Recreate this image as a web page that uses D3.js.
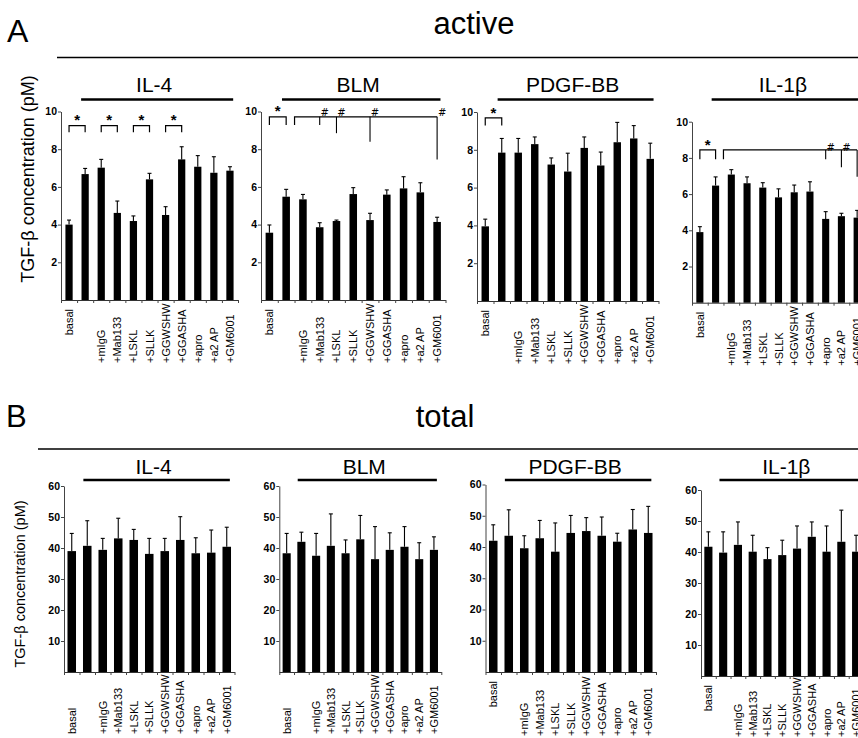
<!DOCTYPE html>
<html>
<head>
<meta charset="utf-8">
<script src="https://cdn.jsdelivr.net/npm/d3@7"></script>
<style>
  body { margin: 0; background: #fff; }
  svg { font-family: "Liberation Sans", Arial, sans-serif; }
  text { fill: #000; }
</style>
</head>
<body>
<svg id="fig" width="858" height="738"></svg>
<script>
// categories (second bar = stimulus alone, unlabeled)
var cats = ["basal", "stim", "+mIgG", "+Mab133", "+LSKL", "+SLLK", "+GGWSHW", "+GGASHA", "+apro", "+a2 AP", "+GM6001"];
var catLabels = ["basal", "", "+mIgG", "+Mab133", "+LSKL", "+SLLK", "+GGWSHW", "+GGASHA", "+apro", "+a2 AP", "+GM6001"];
var stimuli = ["IL-4", "BLM", "PDGF-BB", "IL-1β"];
var activeTicks = [2, 4, 6, 8, 10];
var totalTicks = [10, 20, 30, 40, 50, 60];

// active TGF-b (pM), bar value and top of error bar
var il4Active   = [4.0, 6.68, 7.02, 4.62, 4.19, 6.4, 4.51, 7.46, 7.07, 6.75, 6.86];
var il4ActErr   = [4.24, 6.98, 7.46, 5.25, 4.46, 6.72, 4.95, 8.13, 7.66, 7.6, 7.07];
var blmActive   = [3.57, 5.48, 5.34, 3.86, 4.19, 5.62, 4.24, 5.59, 5.92, 5.71, 4.14];
var blmActErr   = [3.98, 5.87, 5.6, 4.1, 4.24, 5.96, 4.6, 5.84, 6.54, 6.22, 4.39];
var pdgfActive  = [3.95, 7.85, 7.85, 8.3, 7.22, 6.85, 8.1, 7.17, 8.4, 8.6, 7.52];
var pdgfActErr  = [4.33, 8.6, 8.6, 8.68, 7.57, 7.82, 8.68, 7.88, 9.45, 9.28, 8.35];
var il1bActive  = [3.9, 6.47, 7.08, 6.6, 6.36, 5.82, 6.1, 6.14, 4.63, 4.78, 4.7];
var il1bActErr  = [4.2, 6.95, 7.35, 6.95, 6.63, 6.29, 6.5, 6.68, 5.03, 4.94, 5.1];

// total TGF-b (pM)
var il4Total    = [39.0, 40.7, 39.4, 43.1, 42.6, 38.1, 39.0, 42.6, 38.3, 38.5, 40.4];
var il4TotErr   = [44.7, 48.8, 43.1, 49.6, 46.0, 43.1, 43.1, 50.1, 43.3, 45.8, 46.7];
var blmTotal    = [38.3, 42.0, 37.5, 40.7, 38.3, 42.8, 36.4, 39.4, 40.4, 36.4, 39.4];
var blmTotErr   = [44.7, 45.1, 44.7, 51.0, 42.6, 50.5, 46.9, 44.9, 46.9, 41.7, 43.6];
var pdgfTotal   = [42.0, 43.6, 39.6, 42.8, 38.5, 44.5, 45.1, 43.6, 41.7, 45.6, 44.5];
var pdgfTotErr  = [47.1, 51.9, 43.6, 48.5, 47.7, 50.1, 49.4, 49.6, 44.4, 52.0, 53.0];
var il1bTotal   = [41.7, 39.8, 42.3, 40.1, 37.7, 39.0, 41.1, 44.9, 40.1, 43.3, 40.1];
var il1bTotErr  = [46.5, 46.5, 49.7, 45.4, 41.4, 43.8, 48.4, 49.7, 48.4, 53.5, 45.4];

// significance marks (bar indices, levels in pM)
var il4Sig  = [{from: 0, to: 1, top: 9.25, leg: 8.9, mark: "*", at: 9.72},
               {from: 2, to: 3, top: 9.25, leg: 8.9, mark: "*", at: 9.72},
               {from: 4, to: 5, top: 9.25, leg: 8.9, mark: "*", at: 9.72},
               {from: 6, to: 7, top: 9.25, leg: 8.9, mark: "*", at: 9.72}];
var blmSig  = [{from: 0, to: 1, top: 9.72, leg: 9.28, mark: "*", at: 10.2},
               {from: 1.5, to: 10, top: 9.72, leg: 9.28, mark: "#", at: 9.94,
                drops: [[3, 9.28], [4, 8.85], [6, 8.4], [10, 7.45]]}];
var pdgfSig = [{from: 0, to: 1, top: 9.69, leg: 9.28, mark: "*", at: 10.08}];
var il1bSig = [{from: 0, to: 1, top: 8.44, leg: 7.92, mark: "*", at: 8.9},
               {from: 1.5, to: 10, top: 8.44, leg: 7.92, mark: "#", at: 8.58,
                drops: [[8, 7.92], [9, 7.48], [10, 6.96]]}];

var W = 858;
var svg = d3.select("#fig");

function panel(o) {
  var g = svg.append("g");
  var x = d3.scaleBand().domain(cats).range([o.x0, o.x1])
    .paddingInner(o.pad).paddingOuter(o.pad / 2);
  var y = d3.scaleLinear().domain([0, o.max]).range([o.y0, o.y1]);
  var step = x.step(), bw = x.bandwidth();
  // bar center for (possibly fractional) index
  function xc(i) { return x(cats[0]) + bw / 2 + i * step; }

  // y axis
  g.append("g").attr("transform", "translate(" + o.x0 + ",0)")
    .call(d3.axisLeft(y).tickValues(o.ticks).tickSize(3).tickPadding(1).tickSizeOuter(0))
    .call(function(a) {
      a.select(".domain").attr("stroke", "#444");
      a.selectAll(".tick line").attr("stroke", "#444");
      a.selectAll("text").attr("font-size", 10.5).attr("font-weight", "bold")
        .attr("font-family", "Liberation Sans, Arial, sans-serif").attr("fill", "#111");
    });

  // x axis with ticks between bars
  var xi = d3.scaleLinear().domain([0, cats.length]).range([o.x0, o.x1]);
  g.append("g").attr("transform", "translate(0," + o.y0 + ")")
    .call(d3.axisBottom(xi).tickValues(d3.range(cats.length + 1)).tickSize(3)
      .tickSizeOuter(0).tickFormat(""))
    .call(function(a) {
      a.select(".domain").attr("stroke", "#333");
      a.selectAll(".tick line").attr("stroke", "#444");
    });

  // bars
  g.selectAll("rect.bar").data(o.vals).enter().append("rect")
    .attr("x", function(d, i) { return x(cats[i]); })
    .attr("width", bw)
    .attr("y", function(d) { return y(d); })
    .attr("height", function(d) { return o.y0 - y(d); })
    .attr("fill", "#000");

  // error bars (upper only)
  var eb = g.selectAll("g.err").data(o.errs).enter().append("g");
  eb.append("line")
    .attr("x1", function(d, i) { return xc(i); }).attr("x2", function(d, i) { return xc(i); })
    .attr("y1", function(d, i) { return y(o.vals[i]); }).attr("y2", function(d) { return y(d); })
    .attr("stroke", "#000").attr("stroke-width", 1.1);
  eb.append("line")
    .attr("x1", function(d, i) { return xc(i) - 2; }).attr("x2", function(d, i) { return xc(i) + 2; })
    .attr("y1", function(d) { return y(d); }).attr("y2", function(d) { return y(d); })
    .attr("stroke", "#000").attr("stroke-width", 1.1);

  // category labels
  g.selectAll("text.cat").data(catLabels).enter().append("text")
    .attr("font-size", 11)
    .attr("text-anchor", function(d, i) { return (i === 0 && o.basalTop) ? "end" : "start"; })
    .attr("transform", function(d, i) {
      var ty = (i === 0 && o.basalTop) ? o.y0 + 9 : o.y0 + o.labelBottom;
      return "translate(" + (xc(i) + 4) + "," + ty + ") rotate(-90)";
    })
    .text(function(d) { return d; });

  // title with line beneath
  var lx1 = xc(1) - 0.25 * step, lx2 = xc(10) + 0.2 * step;
  g.append("line").attr("x1", lx1).attr("x2", Math.min(lx2, W))
    .attr("y1", o.lineY).attr("y2", o.lineY)
    .attr("stroke", "#000").attr("stroke-width", 2.5);
  g.append("text").attr("x", (lx1 + lx2) / 2 - 3).attr("y", o.titleY)
    .attr("text-anchor", "middle").attr("font-size", 21)
    .text(o.title);

  // significance brackets
  (o.sig || []).forEach(function(s) {
    var ty = y(s.top);
    var p = d3.path();
    p.moveTo(xc(s.from), y(s.leg));
    p.lineTo(xc(s.from), ty);
    p.lineTo(xc(s.to), ty);
    if (!s.drops) p.lineTo(xc(s.to), y(s.leg));
    g.append("path").attr("d", p.toString()).attr("fill", "none")
      .attr("stroke", "#000").attr("stroke-width", 1.2);
    if (s.drops) {
      s.drops.forEach(function(dr) {
        g.append("line").attr("x1", xc(dr[0])).attr("x2", xc(dr[0]))
          .attr("y1", ty).attr("y2", y(dr[1]))
          .attr("stroke", "#000").attr("stroke-width", 1.1);
        // the figure is cropped at the right edge: marks past it are not shown
        if (xc(dr[0]) + 9 > W) return;
        g.append("text").attr("x", xc(dr[0]) + 5).attr("y", y(s.at) + 3.5)
          .attr("text-anchor", "middle").attr("font-size", 10)
          .attr("font-family", "DejaVu Sans, sans-serif").attr("fill", "#000")
          .text(s.mark);
      });
    } else {
      g.append("text").attr("x", (xc(s.from) + xc(s.to)) / 2).attr("y", y(s.at) + 8)
        .attr("text-anchor", "middle").attr("font-size", 15).attr("font-weight", "bold")
        .text(s.mark);
    }
  });
}

// ---- headers ----
svg.append("text").attr("x", 7).attr("y", 42).attr("font-size", 32).text("A");
svg.append("text").attr("x", 474).attr("y", 34).attr("text-anchor", "middle").attr("font-size", 31).text("active");
svg.append("line").attr("x1", 57).attr("x2", 858).attr("y1", 57.5).attr("y2", 57.5)
  .attr("stroke", "#000").attr("stroke-width", 1.5);

svg.append("text").attr("x", 6).attr("y", 427).attr("font-size", 31).text("B");
svg.append("text").attr("x", 445).attr("y", 427).attr("text-anchor", "middle").attr("font-size", 31).text("total");
svg.append("line").attr("x1", 38).attr("x2", 858).attr("y1", 449).attr("y2", 449)
  .attr("stroke", "#000").attr("stroke-width", 1.5);

// y axis titles
svg.append("text").attr("transform", "translate(34,179) rotate(-90)")
  .attr("text-anchor", "middle").attr("font-size", 18).text("TGF-β concentration  (pM)");
svg.append("text").attr("transform", "translate(25,584) rotate(-90)")
  .attr("text-anchor", "middle").attr("font-size", 14.5).text("TGF-β concentration (pM)");

// ---- panel A: active ----
var aVals = [il4Active, blmActive, pdgfActive, il1bActive];
var aErrs = [il4ActErr, blmActErr, pdgfActErr, il1bActErr];
var aSigs = [il4Sig, blmSig, pdgfSig, il1bSig];
var aBox = [
  {x0: 61, x1: 238, y0: 300, y1: 111.5},
  {x0: 261, x1: 445.5, y0: 300, y1: 111.5},
  {x0: 477, x1: 658.5, y0: 301, y1: 112},
  {x0: 692, x1: 865, y0: 302.7, y1: 121.7}
];
aBox.forEach(function(b, k) {
  panel({x0: b.x0, x1: b.x1, y0: b.y0, y1: b.y1, max: 10, ticks: activeTicks, pad: 0.55,
    vals: aVals[k], errs: aErrs[k], sig: aSigs[k], title: stimuli[k],
    titleY: 92, lineY: 99.5, basalTop: true, labelBottom: 63});
});

// ---- panel B: total ----
var bVals = [il4Total, blmTotal, pdgfTotal, il1bTotal];
var bErrs = [il4TotErr, blmTotErr, pdgfTotErr, il1bTotErr];
var bBox = [
  {x0: 64, x1: 234.5, y0: 672, y1: 486, basalTop: false, lb: 62},
  {x0: 279.3, x1: 441.3, y0: 672, y1: 486, basalTop: false, lb: 62},
  {x0: 485.5, x1: 656, y0: 672, y1: 484.5, basalTop: true, lb: 64},
  {x0: 701, x1: 863.5, y0: 676, y1: 490, basalTop: true, lb: 61}
];
bBox.forEach(function(b, k) {
  panel({x0: b.x0, x1: b.x1, y0: b.y0, y1: b.y1, max: 60, ticks: totalTicks, pad: 0.45,
    vals: bVals[k], errs: bErrs[k], sig: [], title: stimuli[k],
    titleY: 474, lineY: 480, basalTop: b.basalTop, labelBottom: b.lb});
});
</script>
</body>
</html>
